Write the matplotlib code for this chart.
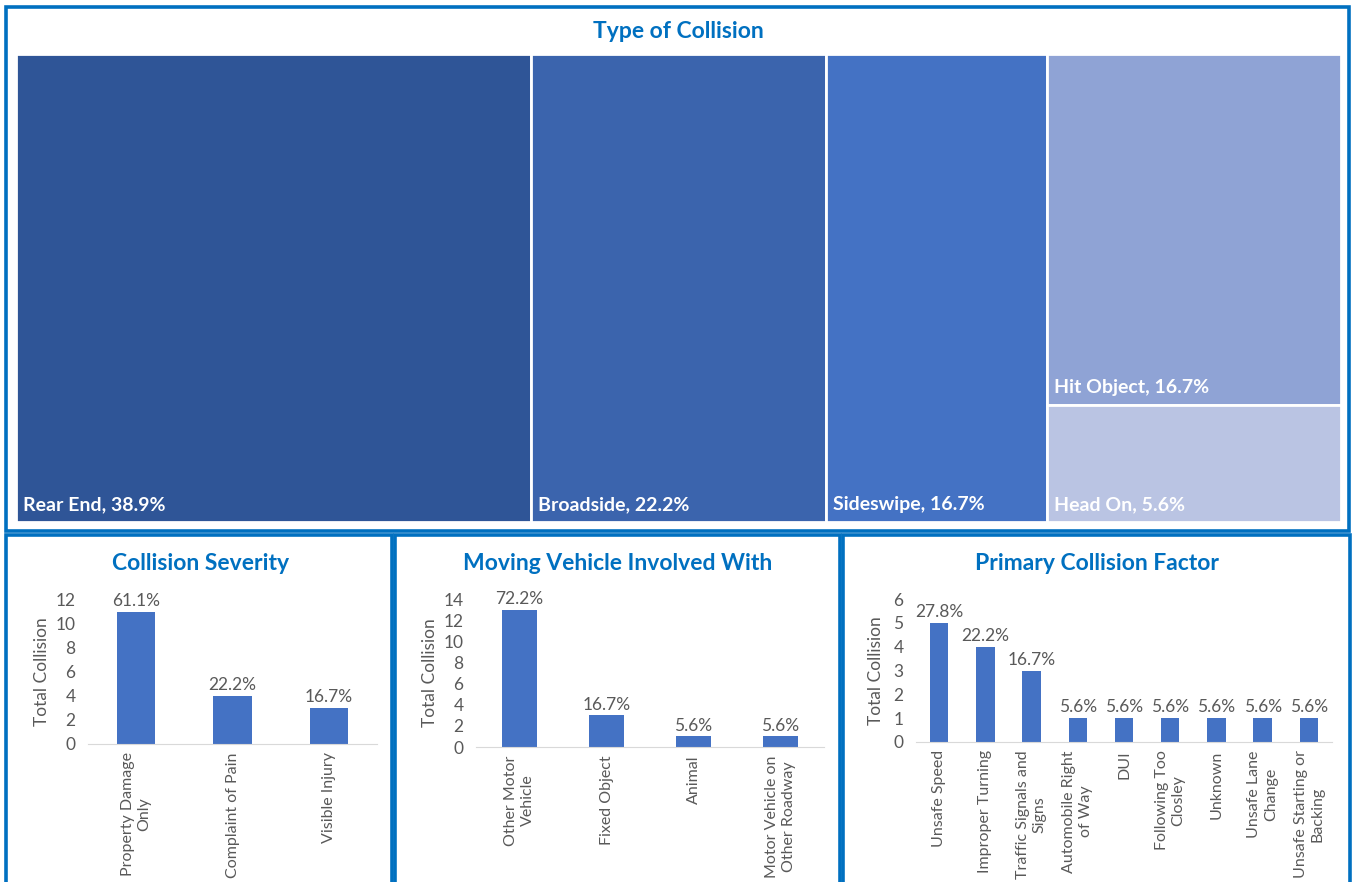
import matplotlib.pyplot as plt
from matplotlib.patches import Rectangle

plt.rcParams['font.family'] = ['Lato', 'DejaVu Sans']

# Type of Collision (treemap)
tm_labels = ["Rear End", "Broadside", "Sideswipe", "Hit Object", "Head On"]
tm_values = [7, 4, 3, 3, 1]
tm_colors = ["#2F5597", "#3B64AD", "#4472C4", "#8FA3D5", "#BAC4E3"]
tm_groups = [[0], [1], [2], [3, 4]]   # columns of the treemap

# Collision Severity
sev_cats = ["Property Damage\nOnly", "Complaint of Pain", "Visible Injury"]
sev_vals = [11, 4, 3]

# Moving Vehicle Involved With
mv_cats = ["Other Motor\nVehicle", "Fixed Object", "Animal", "Motor Vehicle on\nOther Roadway"]
mv_vals = [13, 3, 1, 1]

# Primary Collision Factor
pcf_cats = ["Unsafe Speed", "Improper Turning", "Traffic Signals and\nSigns",
            "Automobile Right\nof Way", "DUI", "Following Too\nClosley", "Unknown",
            "Unsafe Lane\nChange", "Unsafe Starting or\nBacking"]
pcf_vals = [5, 4, 3, 1, 1, 1, 1, 1, 1]

W, H = 1353, 882
TITLE_C = "#0070C0"
BAR_C = "#4472C4"
GRAY = "#595959"

fig = plt.figure(figsize=(W / 100, H / 100), dpi=100)


def px_rect(x0, y0, x1, y1):
    return [x0 / W, 1 - y1 / H, (x1 - x0) / W, (y1 - y0) / H]


def border(x0, y0, x1, y1):
    fig.add_artist(Rectangle((x0 / W, 1 - y1 / H), (x1 - x0) / W, (y1 - y0) / H,
                             transform=fig.transFigure, fill=False,
                             edgecolor=TITLE_C, lw=2.6))


# panel borders
border(6, 7, 1349, 531)
border(6, 535, 392, 890)
border(395, 535, 840, 890)
border(843, 535, 1350, 890)

# treemap
fig.text(678 / W, 1 - 31 / H, "Type of Collision", color=TITLE_C, fontsize=16.5,
         fontweight='bold', ha='center', va='center')
ax = fig.add_axes(px_rect(16, 54, 1341, 522))
ax.set_xlim(0, 1)
ax.set_ylim(1, 0)
ax.axis('off')
total = sum(tm_values)
x = 0
for grp in tm_groups:
    gsum = sum(tm_values[i] for i in grp)
    w = gsum / total
    y = 0
    for i in grp:
        h = tm_values[i] / gsum
        ax.add_patch(Rectangle((x, y), w, h, facecolor=tm_colors[i],
                               edgecolor='white', lw=2))
        ax.annotate(f"{tm_labels[i]}, {tm_values[i] / total * 100:.1f}%",
                    (x, y + h), xytext=(7, 9), textcoords='offset pixels',
                    color='white', fontsize=14, fontweight='bold',
                    ha='left', va='bottom')
        y += h
    x += w


def bar_panel(rect, title, title_xy, cats, vals, ymax, ylabel_x):
    a = fig.add_axes(px_rect(*rect))
    n = len(vals)
    bars = a.bar(range(n), vals, width=0.4, color=BAR_C)
    tot = sum(vals)
    for b, v in zip(bars, vals):
        a.annotate(f"{v / tot * 100:.1f}%", (b.get_x() + b.get_width() / 2, v),
                   xytext=(0, 2), textcoords='offset points', ha='center',
                   va='bottom', fontsize=12.5, color=GRAY)
    a.set_xlim(-0.5, n - 0.5)
    a.set_ylim(0, ymax)
    a.set_yticks(range(0, ymax + 1, 2 if ymax > 6 else 1))
    a.set_xticks(range(n))
    a.set_xticklabels(cats, rotation=90, ha='center', va='top',
                      multialignment='center', fontsize=11.5, color=GRAY,
                      linespacing=1.25)
    a.tick_params(axis='y', length=0, labelsize=12.5, labelcolor=GRAY, pad=9)
    a.tick_params(axis='x', length=0, pad=6)
    for s in ['top', 'right', 'left']:
        a.spines[s].set_visible(False)
    a.spines['bottom'].set_color('#D9D9D9')
    fig.text(ylabel_x / W, 1 - (rect[1] + rect[3]) / 2 / H, "Total Collision",
             rotation=90, fontsize=12.5, color=GRAY, ha='center', va='center')
    fig.text(title_xy[0] / W, 1 - title_xy[1] / H, title, color=TITLE_C,
             fontsize=16.5, fontweight='bold', ha='center', va='center')
    return a


bar_panel((88, 600, 377, 744), "Collision Severity", (201, 563),
          sev_cats, sev_vals, 12, 42)
bar_panel((476, 599, 824, 747), "Moving Vehicle Involved With", (618, 563),
          mv_cats, mv_vals, 14, 430)
bar_panel((916, 599, 1332, 742), "Primary Collision Factor", (1097, 563),
          pcf_cats, pcf_vals, 6, 876)

fig.savefig("out.png", dpi=100)
